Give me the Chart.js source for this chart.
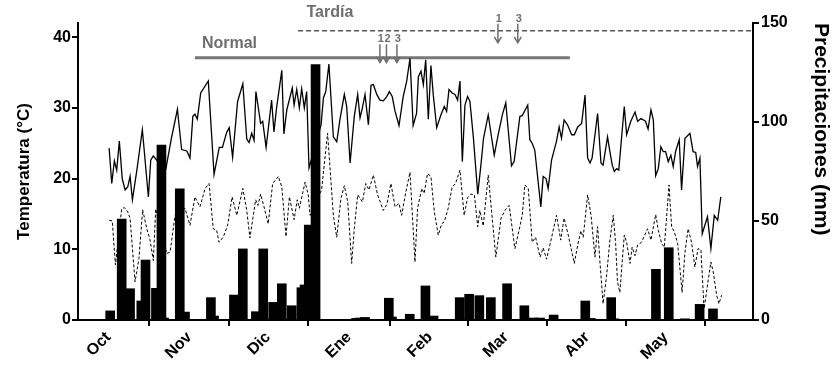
<!DOCTYPE html>
<html><head><meta charset="utf-8">
<script src="https://cdn.jsdelivr.net/npm/chart.js@4.4.1/dist/chart.umd.min.js"></script>
<style>html,body{margin:0;padding:0;background:#fff}canvas{display:block}</style>
</head><body>
<canvas id="c" width="837" height="369"></canvas>
<script>
// ---- tick labels (days since 1 Oct) ----
const monthDays = [0, 31, 61, 92, 123, 152, 183, 213];
const monthLabels = ['Oct', 'Nov', 'Dic', 'Ene', 'Feb', 'Mar', 'Abr', 'May'];
const tempTicks = [0, 10, 20, 30, 40];
const rainTicks = [0, 50, 100, 150];

// ---- daily maximum temperature (°C) ----
const tmaxDay = [0.3,1.3,2.3,3.2,4.2,5.3,6.4,7.4,8.3,9.2,
10.9,13.0,15.3,16.2,17.2,18.5,22.0,24.0,26.4,28.0,
30.0,31.2,32.3,33.1,34.0,35.3,38.2,40.4,42.4,43.6,
45.2,46.2,47.5,49.4,51.4,52.9,53.8,54.8,55.7,56.4,
58.2,59.0,60.3,62.4,63.3,64.3,66.3,67.1,68.2,70.3,
71.0,72.0,73.0,73.9,74.9,75.8,76.7,81.3,82.2,83.1,
84.3,86.0,87.3,88.5,90.2,91.1,92.4,94.0,95.3,96.2,
97.1,98.1,99.4,100.4,101.3,102.6,103.8,105.1,106.4,107.4,
108.5,109.6,111.1,112.7,114.0,115.3,116.5,117.8,118.5,119.5,
120.4,121.3,122.3,123.3,124.2,125.5,127.1,128.4,129.3,130.2,
131.4,132.5,133.5,134.4,135.3,136.3,137.3,138.2,139.5,141.2,
142.4,143.4,145.2,147.5,149.0,150.6,151.9,154.1,155.1,157.3,
158.2,160.3,161.1,162.0,163.0,165.3,166.2,167.3,168.1,169.4,
171.3,172.3,173.2,174.2,175.5,177.1,178.1,179.4,180.9,182.2,
183.2,184.1,184.9,187.0,188.3,189.1,190.8,191.7,192.6,193.4,
194.3,195.1,197.2,198.1,199.7,201.3,202.3,203.6,205.3,206.3,
207.4,208.3,209.2,210.2,211.2,212.1,213.0,214.0,215.0,215.9,
216.8,218.2,219.1,220.4,222.3,223.5,224.5,225.2,226.1,227.0,
229.0,230.3,231.6,232.9,234.1];
const tmaxVal = [24.3,19.3,22.5,21.2,25.3,20.0,18.4,18.8,20.3,17.0,
21.2,26.9,17.4,22.6,23.2,22.6,21.4,25.5,29.8,24.1,
23.9,22.9,28.8,29.1,28.4,32.1,33.8,20.6,24.4,24.4,
26.5,27.2,23.0,30.9,33.4,25.6,25.1,26.4,25.4,32.3,
27.8,28.1,24.4,31.1,26.6,30.0,35.3,26.3,29.7,32.8,
30.4,32.6,30.0,32.7,30.0,32.3,21.5,27.6,31.4,32.3,
36.2,25.9,25.2,28.3,31.9,30.2,22.2,28.8,31.9,28.6,
30.0,31.9,27.6,33.2,33.3,31.9,31.1,31.0,31.6,32.3,
31.6,29.5,27.5,31.6,33.7,37.0,27.5,29.2,34.4,35.2,
33.3,36.8,28.4,36.0,31.8,27.2,29.0,30.2,29.5,32.6,
32.1,31.9,31.1,33.8,22.4,30.4,31.6,30.9,25.9,17.8,
21.9,25.7,29.0,23.3,26.2,29.0,30.7,21.8,22.4,28.8,
28.9,30.4,25.5,25.0,24.0,16.0,20.3,20.0,18.6,22.6,
25.3,27.3,25.7,28.3,27.6,26.2,26.2,27.3,27.8,31.8,
22.9,22.2,22.9,29.2,22.2,21.9,25.9,23.8,21.9,21.0,
21.4,21.2,30.2,26.2,28.1,29.4,28.1,28.5,28.1,27.0,
29.7,28.3,20.4,21.4,24.5,23.8,23.8,22.4,23.3,21.7,
23.8,25.5,18.4,25.7,26.4,23.8,23.7,21.7,22.9,12.2,
14.6,10.1,14.8,14.1,17.4];

// ---- daily minimum temperature (°C) ----
const tminDay = [0.3,1.5,2.7,5.1,6.1,7.4,8.3,10.2,11.7,13.1,
14.7,15.9,17.2,18.1,22.3,23.6,25.5,29.3,31.2,33.1,
35.0,37.0,38.5,40.1,41.4,42.3,43.9,45.6,47.3,49.1,
51.4,52.9,54.1,56.3,57.2,58.2,59.5,61.1,62.8,65.0,
66.3,67.9,69.2,71.0,72.2,73.0,75.2,76.4,77.1,81.5,
83.8,86.0,87.3,88.9,90.2,91.5,93.0,94.0,95.3,97.1,
98.4,99.6,101.3,102.9,105.1,106.5,108.0,109.6,111.1,112.1,
113.6,115.3,117.2,118.2,119.8,120.7,122.0,123.3,124.6,126.1,
127.4,128.4,129.9,131.4,132.7,134.4,136.0,137.3,138.6,139.9,
141.2,142.0,143.3,145.2,146.5,148.1,150.1,151.6,153.2,155.4,
157.3,158.2,159.2,160.5,162.0,163.3,165.0,166.2,167.5,169.2,
171.3,172.9,174.2,175.8,178.1,179.4,180.6,181.5,183.2,184.5,
186.0,187.0,187.9,189.1,190.4,191.7,193.0,193.9,194.6,195.5,
197.2,198.1,199.4,200.2,201.3,202.3,203.8,206.1,207.4,209.2,
210.2,211.5,212.5,214.3,215.3,216.3,217.6,219.3,220.4,221.6,
222.9,224.2,225.4,226.5,227.7,230.3,231.2,232.5,233.4,234.4];
const tminVal = [14.1,14.0,7.8,15.7,15.9,15.3,14.4,5.4,8.7,15.6,
12.9,11.4,8.4,15.7,9.4,9.6,14.8,15.8,13.4,17.4,
16.0,18.6,19.3,12.9,12.7,11.0,11.7,13.4,17.4,14.8,
18.6,15.5,11.6,17.0,16.2,17.8,16.0,13.6,19.3,20.3,
18.8,11.8,17.4,14.2,17.0,15.8,19.5,17.7,14.8,18.4,
26.4,14.8,11.7,17.2,19.0,16.7,8.0,12.9,17.7,16.7,
19.3,18.4,20.5,17.7,15.5,16.4,19.3,16.0,16.5,14.8,
17.9,20.9,8.2,15.8,18.6,17.9,20.7,20.3,15.3,12.0,
13.6,13.9,15.8,18.8,19.3,21.2,14.8,17.3,17.8,17.7,
13.2,15.5,13.3,20.5,15.3,8.9,14.4,15.5,16.2,10.1,
13.2,14.8,19.1,18.6,11.0,11.7,8.9,10.2,8.6,11.3,
14.8,11.3,14.4,12.0,8.0,10.6,12.6,11.7,17.7,14.8,
8.9,13.2,8.2,2.3,6.1,11.3,14.8,10.8,5.4,3.9,
12.0,11.0,8.0,10.3,9.1,10.6,11.0,12.9,11.3,14.9,
12.7,10.8,10.3,19.1,13.2,12.5,10.8,3.9,9.6,12.9,
11.0,7.5,10.1,9.9,1.6,8.2,6.8,3.5,2.3,3.5];

// ---- precipitation events (mm) ----
const rainDay = [0.7,5.1,8.3,12.6,14.2,18.2,20.3,21.3,27.3,29.3,
39.2,40.4,48.0,51.4,56.4,59.2,63.0,66.3,70.1,73.8,
75.0,76.6,79.2,94.7,96.2,98.1,107.2,108.4,115.2,121.2,
124.3,134.3,137.9,141.8,146.2,152.4,159.0,162.3,165.0,170.2,
182.3,184.4,192.2,193.4,209.3,214.2,220.4,226.0,231.1];
const rainMm = [4.6,51,15.8,9.6,30.3,16,88.4,1,66.2,4,
11.3,2,12.6,35.9,4.2,35.9,8.9,18.3,7.2,16.3,
17.7,48,129,0.8,1,1.3,11,1.5,2.9,17.2,
2,11.3,13,12.3,11.3,18.3,7.2,1,1,2.5,
9.6,0.8,11.3,0.6,25.6,36.5,0.6,7.9,5.6];

// ---- sowing periods and events ----
const phaseLabels = ['Normal', 'Tardía'];
const phaseStartDay = [33.1, 72.5];
const phaseEndDay = [176.4, 246.4];
const phaseLevel = [37.1, 40.9];
const phaseLabelDay = [46.3, 84.7];
const phaseLabelLevel = [39.1, 43.5];
const eventDays = [[103.8, 106.3, 110.3], [148.9, 156.5]];
const eventLabels = [['1', '2', '3'], ['1', '3']];
const eventTop = [39.0, 41.9];
const eventTip = [36.4, 39.2];
const eventLabelLevel = [39.7, 42.6];

const FONT = '"Liberation Sans", Arial, sans-serif';
const GREY = '#6e6e6e';

const pts = (xs, ys) => xs.map((d, i) => ({x: d, y: ys[i]}));

const annot = {
  id: 'annot',
  afterDatasetsDraw(chart) {
    const ctx = chart.ctx, xs = chart.scales.x, ys = chart.scales.y;
    ctx.save();
    ctx.fillStyle = GREY;
    ctx.textAlign = 'center';
    ctx.textBaseline = 'middle';
    ctx.font = 'bold 16px ' + FONT;
    phaseLabels.forEach((t, i) => {
      ctx.fillText(t, xs.getPixelForValue(phaseLabelDay[i]), ys.getPixelForValue(phaseLabelLevel[i]));
    });
    ctx.strokeStyle = GREY;
    ctx.lineWidth = 1.5;
    ctx.font = 'bold 11px ' + FONT;
    eventDays.forEach((set, k) => {
      set.forEach((d, j) => {
        const px = xs.getPixelForValue(d);
        const top = ys.getPixelForValue(eventTop[k]);
        const tip = ys.getPixelForValue(eventTip[k]);
        ctx.beginPath();
        ctx.moveTo(px, top); ctx.lineTo(px, tip);
        ctx.moveTo(px - 3.5, tip - 6); ctx.lineTo(px, tip); ctx.lineTo(px + 3.5, tip - 6);
        ctx.stroke();
        ctx.fillText(eventLabels[k][j], px + 1, ys.getPixelForValue(eventLabelLevel[k]));
      });
    });
    ctx.restore();
  }
};

const axisCommon = {
  grid: {drawOnChartArea: false, drawTicks: true, tickLength: 6, color: '#000', lineWidth: 2},
  border: {display: true, color: '#000', width: 2},
};

new Chart(document.getElementById('c'), {
  data: {
    datasets: [
      {type: 'bar', data: pts(rainDay, rainMm), yAxisID: 'yP', backgroundColor: '#000',
       borderWidth: 0, barThickness: 9},
      {type: 'line', data: pts(tmaxDay, tmaxVal), yAxisID: 'y', borderColor: '#000',
       borderWidth: 1.3, pointRadius: 0, tension: 0, fill: false},
      {type: 'line', data: pts(tminDay, tminVal), yAxisID: 'y', borderColor: '#000',
       borderWidth: 1, borderDash: [3, 2], pointRadius: 0, tension: 0, fill: false},
      {type: 'line', data: [{x: phaseStartDay[0], y: phaseLevel[0]}, {x: phaseEndDay[0], y: phaseLevel[0]}],
       yAxisID: 'y', borderColor: '#777', borderWidth: 3, pointRadius: 0},
      {type: 'line', data: [{x: phaseStartDay[1], y: phaseLevel[1]}, {x: phaseEndDay[1], y: phaseLevel[1]}],
       yAxisID: 'y', borderColor: '#555', borderWidth: 1.6, borderDash: [5, 3], pointRadius: 0}
    ]
  },
  options: {
    responsive: false,
    animation: false,
    devicePixelRatio: 1,
    layout: {padding: {top: 23, left: 0, right: 0, bottom: 0}},
    plugins: {legend: {display: false}, tooltip: {enabled: false}},
    scales: {
      x: {
        type: 'linear', position: 'bottom', min: -11.6, max: 246.4, offset: false,
        ...axisCommon,
        afterBuildTicks: (a) => { a.ticks = monthDays.map(v => ({value: v})); },
        afterFit: (a) => { a.height = 49; },
        ticks: {
          autoSkip: false, minRotation: 45, maxRotation: 45, padding: 2, color: '#000',
          font: {family: FONT, size: 16, weight: 'bold'},
          callback: (v) => { const i = monthDays.indexOf(v); return i >= 0 ? monthLabels[i] : ''; }
        }
      },
      y: {
        type: 'linear', position: 'left', min: 0, max: 42,
        ...axisCommon,
        afterBuildTicks: (a) => { a.ticks = tempTicks.map(v => ({value: v})); },
        afterFit: (a) => { a.width = 78; },
        ticks: {padding: 1, color: '#000', font: {family: FONT, size: 16, weight: 'bold'}},
        title: {display: true, text: 'Temperatura (°C)', color: '#000', padding: {top: 14, bottom: 0},
                font: {family: FONT, size: 17, weight: 'bold'}}
      },
      yP: {
        type: 'linear', position: 'right', min: 0, max: 150,
        ...axisCommon,
        afterBuildTicks: (a) => { a.ticks = rainTicks.map(v => ({value: v})); },
        afterFit: (a) => { a.width = 84; },
        ticks: {padding: 2, color: '#000', font: {family: FONT, size: 16, weight: 'bold'}},
        title: {display: true, text: 'Precipitaciones (mm)', color: '#000', align: 'end', padding: {top: 4, bottom: 0},
                font: {family: FONT, size: 21, weight: 'bold'}}
      }
    }
  },
  plugins: [annot]
});
</script>
</body></html>
